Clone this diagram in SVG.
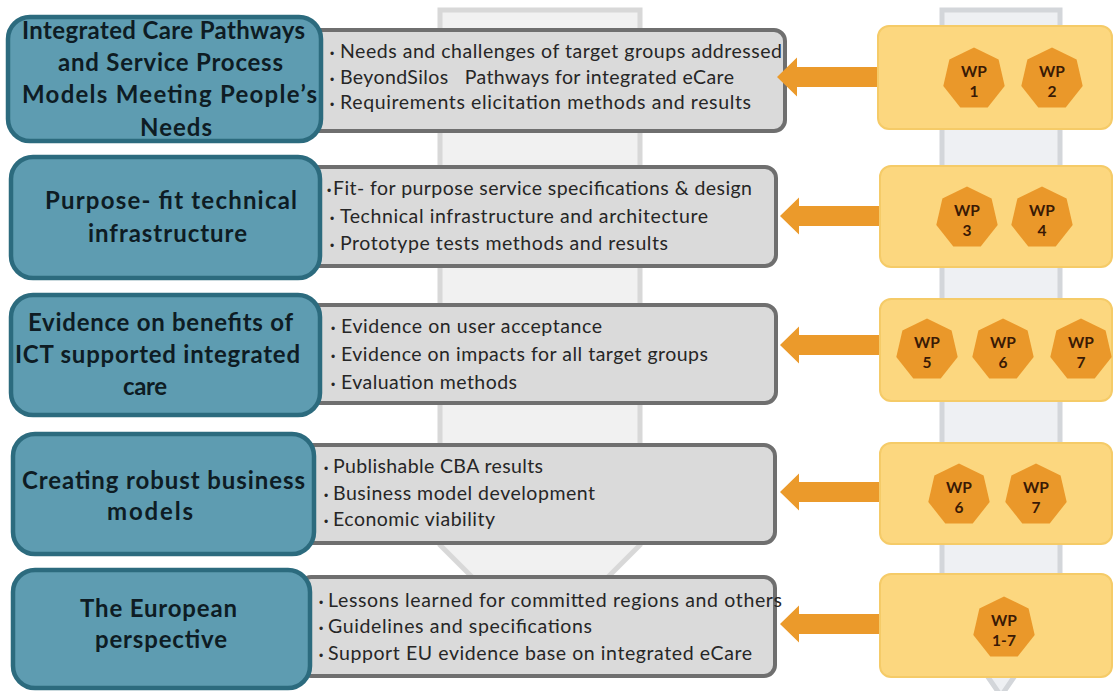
<svg xmlns="http://www.w3.org/2000/svg" width="1114" height="691" viewBox="0 0 1114 691">
<style>
.bg{fill:#f1f1f1;stroke:#d8d8d8;stroke-width:5}
.bg2{fill:#eef0f3;stroke:#d3d6da;stroke-width:5}
.teal{fill:#5e9cb1;stroke:#2c6b7e;stroke-width:4.5}
.gray{fill:#dadada;stroke:#6f6f6f;stroke-width:4}
.yel{fill:#fcd77f;stroke:#f5cb68;stroke-width:2}
.arr{fill:#eb9a2b}
.hept{fill:#ea982a}
.title{font-family:"Lato","Liberation Sans",sans-serif;font-weight:bold;font-size:24px;fill:#0e1c24}
.item{font-family:"Lato","Liberation Sans",sans-serif;font-size:19.5px;fill:#262626;white-space:pre}
.bul{font-family:"Liberation Sans",sans-serif;font-size:12px;fill:#262626}
.wp{font-family:"Lato","Liberation Sans",sans-serif;font-weight:bold;font-size:15.5px;fill:#3a1a05;text-anchor:middle}
</style>
<defs>
<polygon id="hp" points="0,-31.5 24.6,-19.6 30.7,7 13.7,28.4 -13.7,28.4 -30.7,7 -24.6,-19.6"/>
</defs>
<rect width="1114" height="691" fill="#ffffff"/>

<g id="background-arrows">
<path class="bg" d="M440,10 H640 V545 L540,645 L440,545 Z"/>
<path class="bg2" d="M942,10 H1060 V610 L1001,696 L942,610 Z"/>
</g>

<g id="row1">
<rect class="gray" x="300" y="30" width="485" height="101" rx="11"/>
<rect class="teal" x="8" y="17" width="313" height="124" rx="22"/>
<text class="title" x="22" y="39" textLength="283">Integrated Care Pathways</text>
<text class="title" x="58" y="71" textLength="225">and Service Process</text>
<text class="title" x="22" y="103" textLength="295">Models Meeting People’s</text>
<text class="title" x="140" y="136" textLength="72">Needs</text>
<text class="bul" x="330" y="58">•</text>
<text class="item" x="340" y="58" textLength="442">Needs and challenges of target groups addressed</text>
<text class="bul" x="330" y="84">•</text>
<text class="item" x="340" y="84" textLength="394">BeyondSilos   Pathways for integrated eCare</text>
<text class="bul" x="330" y="109">•</text>
<text class="item" x="340" y="109" textLength="411">Requirements elicitation methods and results</text>
</g>

<g id="row2">
<rect class="gray" x="300" y="167" width="476" height="99" rx="11"/>
<rect class="teal" x="11" y="157" width="309" height="121" rx="22"/>
<text class="title" x="45" y="209" textLength="252">Purpose- fit technical</text>
<text class="title" x="88" y="242" textLength="159">infrastructure</text>
<text class="bul" x="327" y="195">•</text>
<text class="item" x="333" y="195" textLength="419">Fit- for purpose service specifications &amp; design</text>
<text class="bul" x="330" y="223">•</text>
<text class="item" x="340" y="223" textLength="368">Technical infrastructure and architecture</text>
<text class="bul" x="330" y="250">•</text>
<text class="item" x="340" y="250" textLength="328">Prototype tests methods and results</text>
</g>

<g id="row3">
<rect class="gray" x="300" y="305" width="476" height="98" rx="11"/>
<rect class="teal" x="11" y="295" width="309" height="120" rx="22"/>
<text class="title" x="28" y="331" textLength="265">Evidence on benefits of</text>
<text class="title" x="15" y="363" textLength="285">ICT supported integrated</text>
<text class="title" x="123" y="395" textLength="44">care</text>
<text class="bul" x="331" y="333">•</text>
<text class="item" x="341" y="333" textLength="261">Evidence on user acceptance</text>
<text class="bul" x="331" y="361">•</text>
<text class="item" x="341" y="361" textLength="367">Evidence on impacts for all target groups</text>
<text class="bul" x="331" y="389">•</text>
<text class="item" x="341" y="389" textLength="176">Evaluation methods</text>
</g>

<g id="row4">
<rect class="gray" x="300" y="445" width="475" height="98" rx="11"/>
<rect class="teal" x="13" y="434" width="301" height="120" rx="22"/>
<text class="title" x="22" y="489" textLength="283">Creating robust business</text>
<text class="title" x="107" y="520" textLength="86">models</text>
<text class="bul" x="324" y="473">•</text>
<text class="item" x="333" y="473" textLength="210">Publishable CBA results</text>
<text class="bul" x="324" y="500">•</text>
<text class="item" x="333" y="500" textLength="262">Business model development</text>
<text class="bul" x="324" y="526">•</text>
<text class="item" x="333" y="526" textLength="162">Economic viability</text>
</g>

<g id="row5">
<rect class="gray" x="300" y="577" width="475" height="99" rx="11"/>
<rect class="teal" x="13" y="570" width="297" height="118" rx="22"/>
<text class="title" x="80" y="617" textLength="157">The European</text>
<text class="title" x="95" y="648" textLength="132">perspective</text>
<text class="bul" x="319" y="607">•</text>
<text class="item" x="328" y="607" textLength="454">Lessons learned for committed regions and others</text>
<text class="bul" x="319" y="633">•</text>
<text class="item" x="328" y="633" textLength="264">Guidelines and specifications</text>
<text class="bul" x="319" y="660">•</text>
<text class="item" x="328" y="660" textLength="424">Support EU evidence base on integrated eCare</text>
</g>

<g id="connectors">
<polygon class="arr" points="777,77 797,57.5 797,67 880,67 880,87 797,87 797,96.5"/>
<polygon class="arr" points="780,216 799,197.5 799,206 882,206 882,226 799,226 799,234.5"/>
<polygon class="arr" points="780,345 799,326.5 799,335 882,335 882,355 799,355 799,363.5"/>
<polygon class="arr" points="780,492 799,473.5 799,482 882,482 882,502 799,502 799,510.5"/>
<polygon class="arr" points="780,624 799,605.5 799,614 882,614 882,634 799,634 799,642.5"/>
</g>

<g id="wp-row1">
<rect class="yel" x="878" y="26" width="234" height="103" rx="11"/>
<use href="#hp" class="hept" x="974" y="79"/>
<text class="wp" x="974" y="77">WP</text><text class="wp" x="974" y="97">1</text>
<use href="#hp" class="hept" x="1052" y="79"/>
<text class="wp" x="1052" y="77">WP</text><text class="wp" x="1052" y="97">2</text>
</g>
<g id="wp-row2">
<rect class="yel" x="880" y="166" width="232" height="101" rx="11"/>
<use href="#hp" class="hept" x="967" y="218"/>
<text class="wp" x="967" y="216">WP</text><text class="wp" x="967" y="236">3</text>
<use href="#hp" class="hept" x="1042" y="218"/>
<text class="wp" x="1042" y="216">WP</text><text class="wp" x="1042" y="236">4</text>
</g>
<g id="wp-row3">
<rect class="yel" x="880" y="299" width="232" height="102" rx="11"/>
<use href="#hp" class="hept" x="927" y="350"/>
<text class="wp" x="927" y="348">WP</text><text class="wp" x="927" y="368">5</text>
<use href="#hp" class="hept" x="1003" y="350"/>
<text class="wp" x="1003" y="348">WP</text><text class="wp" x="1003" y="368">6</text>
<use href="#hp" class="hept" x="1081" y="350"/>
<text class="wp" x="1081" y="348">WP</text><text class="wp" x="1081" y="368">7</text>
</g>
<g id="wp-row4">
<rect class="yel" x="880" y="443" width="232" height="101" rx="11"/>
<use href="#hp" class="hept" x="959" y="495"/>
<text class="wp" x="959" y="493">WP</text><text class="wp" x="959" y="513">6</text>
<use href="#hp" class="hept" x="1036" y="495"/>
<text class="wp" x="1036" y="493">WP</text><text class="wp" x="1036" y="513">7</text>
</g>
<g id="wp-row5">
<rect class="yel" x="880" y="574" width="232" height="103" rx="11"/>
<use href="#hp" class="hept" x="1004" y="628"/>
<text class="wp" x="1004" y="626">WP</text><text class="wp" x="1004" y="646">1-7</text>
</g>
</svg>
